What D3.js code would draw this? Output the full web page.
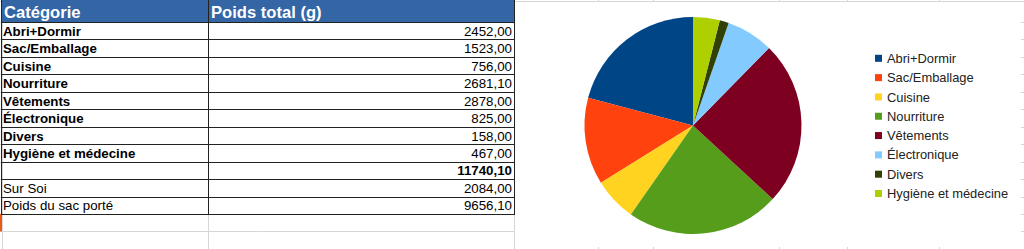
<!DOCTYPE html>
<html>
<head>
<meta charset="utf-8">
<script src="https://cdn.jsdelivr.net/npm/d3@7"></script>
<style>
  html, body { margin: 0; padding: 0; background: #fff; }
  svg { display: block; font-family: "Liberation Sans", Arial, sans-serif; }
</style>
</head>
<body>
<svg id="sheet"></svg>
<script>
// Data from the spreadsheet
const categories = ["Abri+Dormir", "Sac/Emballage", "Cuisine", "Nourriture", "Vêtements", "Électronique", "Divers", "Hygiène et médecine"];
const weights = [2452.00, 1523.00, 756.00, 2681.10, 2878.00, 825.00, 158.00, 467.00];
const summaryLabels = ["", "Sur Soi", "Poids du sac porté"];
const summaryValues = [11740.10, 2084.00, 9656.10];
const headers = ["Catégorie", "Poids total (g)"];
const sliceColors = ["#004586", "#ff420e", "#ffd320", "#579d1c", "#7e0021", "#83caff", "#314004", "#aecf00"];

// Sheet geometry
const width = 1024;
const height = 249;
const headerH = 22;
const rowH = 17.45;
const colEdges = [1, 208, 514];
const extraCols = [598, 653, 779, 847, 939];

const svg = d3.select("#sheet")
              .attr("width", width)
              .attr("height", height);

const frFormat = d3.formatLocale({decimal: ",", thousands: "", grouping: [3], currency: ["", " €"]}).format(".2f");

// Table rows: categories in bold, then summary lines
const rows = categories.map((c, i) => ({label: c, value: weights[i], bold: true, boldValue: false}))
  .concat(summaryLabels.map((l, i) => ({label: l, value: summaryValues[i], bold: false, boldValue: i === 0})));

const y = d3.scaleLinear().domain([0, 13]).range([headerH, headerH + rowH * 13]);

// Light sheet gridlines
const grid = svg.append("g").attr("stroke", "#d6d6d6").attr("stroke-width", 1);
grid.selectAll("line.h")
    .data(d3.range(0, 14))
    .enter().append("line")
    .attr("x1", 0).attr("x2", width)
    .attr("y1", d => Math.round(y(d)) + 0.5)
    .attr("y2", d => Math.round(y(d)) + 0.5);
grid.append("line").attr("x1", 0).attr("x2", width).attr("y1", 1.5).attr("y2", 1.5);
grid.selectAll("line.v")
    .data([2].concat(colEdges.slice(1), extraCols))
    .enter().append("line")
    .attr("x1", d => d + 0.5).attr("x2", d => d + 0.5)
    .attr("y1", 0).attr("y2", height);

// Active row marker
svg.append("rect")
   .attr("x", 0).attr("y", y(11)).attr("width", 2).attr("height", rowH)
   .attr("fill", "#e8591a");

// Header
svg.append("rect")
   .attr("x", colEdges[0]).attr("y", 0)
   .attr("width", colEdges[2] - colEdges[0]).attr("height", headerH)
   .attr("fill", "#3465a4");
svg.selectAll("text.head")
   .data(headers)
   .enter().append("text")
   .attr("x", (d, i) => colEdges[i] + 3)
   .attr("y", 17.5)
   .attr("fill", "#fff")
   .attr("font-weight", "bold")
   .attr("font-size", "16.6px")
   .text(d => d);

// Body text
const body = svg.append("g").attr("font-size", "13.3px").attr("fill", "#000");
body.selectAll("text.label")
    .data(rows)
    .enter().append("text")
    .attr("x", colEdges[0] + 2)
    .attr("y", (d, i) => y(i + 1) - 3.6)
    .attr("font-weight", d => d.bold ? "bold" : "normal")
    .text(d => d.label);
body.selectAll("text.value")
    .data(rows)
    .enter().append("text")
    .attr("x", colEdges[2] - 2)
    .attr("y", (d, i) => y(i + 1) - 3.6)
    .attr("text-anchor", "end")
    .attr("font-weight", d => d.boldValue ? "bold" : "normal")
    .text(d => frFormat(d.value));

// Table borders
const borders = svg.append("g").attr("stroke", "#222").attr("stroke-width", 1);
borders.selectAll("line.h")
    .data(d3.range(0, 12))
    .enter().append("line")
    .attr("x1", colEdges[0]).attr("x2", colEdges[2] + 1)
    .attr("y1", d => Math.round(y(d)) + 0.5)
    .attr("y2", d => Math.round(y(d)) + 0.5);
borders.selectAll("line.v")
    .data(colEdges)
    .enter().append("line")
    .attr("x1", d => d + 0.5).attr("x2", d => d + 0.5)
    .attr("y1", 0).attr("y2", Math.round(y(11)) + 1);

// Chart object
svg.append("rect")
   .attr("x", 515).attr("y", 2).attr("width", 506).attr("height", 245)
   .attr("fill", "#fff");

const color = d3.scaleOrdinal().domain(categories).range(sliceColors);

const pie = d3.pie()
              .sort(null)
              .startAngle(0)
              .endAngle(-2 * Math.PI)
              .value((d, i) => weights[i]);
const arc = d3.arc().innerRadius(0).outerRadius(108.5);

svg.append("g")
   .attr("transform", "translate(693,125.5)")
   .selectAll("path")
   .data(pie(categories))
   .enter().append("path")
   .attr("d", arc)
   .attr("fill", d => color(d.data));

// Legend
const legendY = d3.scalePoint().domain(categories).range([58.3, 193.5]);
const legend = svg.append("g").selectAll("g")
   .data(categories)
   .enter().append("g")
   .attr("transform", d => `translate(875,${legendY(d)})`);
legend.append("rect")
   .attr("x", 0).attr("y", -3.5).attr("width", 7).attr("height", 7)
   .attr("fill", d => color(d));
legend.append("text")
   .attr("x", 12).attr("y", 4.6)
   .attr("font-size", "12.9px")
   .attr("fill", "#222")
   .text(d => d);
</script>
</body>
</html>
